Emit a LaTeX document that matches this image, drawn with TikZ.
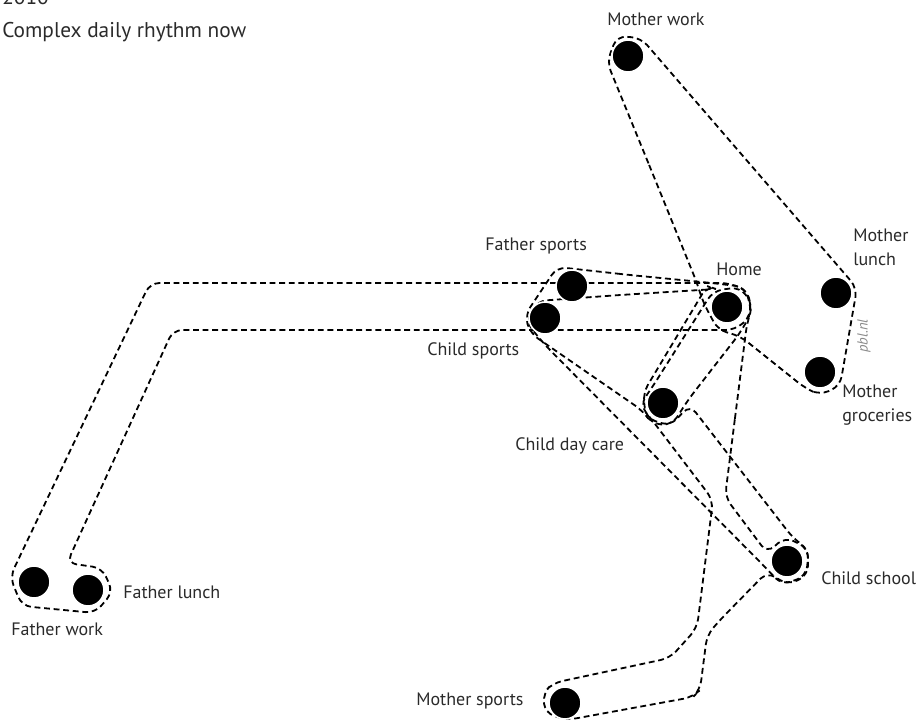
\documentclass[tikz,border=0pt]{standalone}
\usepackage{fontspec}
\setmainfont{PT Sans}
\usetikzlibrary{positioning}
\definecolor{inkgray}{HTML}{2A2A2A}

\begin{document}
\begin{tikzpicture}[x=0.75pt,y=-0.75pt,
  every node/.style={font=\fontsize{13.5}{17.3}\selectfont,text=inkgray},
  stop/.style={circle,fill=black,draw=white,line width=1.2pt,minimum size=24pt,inner sep=0pt},
  tour/.style={draw,line width=1.35pt,dash pattern=on 4.4pt off 2.8pt,rounded corners=7pt},
  lbl/.style={anchor=base west,inner sep=0pt,align=left},
  headline/.style={lbl,font=\fontsize{16}{19}\selectfont}]
\useasboundingbox (0,0) rectangle (916,722);

% titles
\node[headline] (year) at (2,4) {2010};
\node[headline] (title) at (2,37) {Complex daily rhythm now};

% trips
\draw[tour] (400,283) -- (150,283) -- (10,577) -- (22,606) -- (95,613) -- (113,592) -- (102,568) -- (67,563) -- (173,330) -- (735,330) -- (751,316) -- (749,292) -- (730,283) -- cycle;
\draw[tour] (652,172) -- (607,62) -- (617,36) -- (641,38) -- (857,288) -- (840,386) -- (820,395) -- (805,388) -- (740,336) -- (718,330) -- (703,302) -- (697,283) -- cycle;
\draw[tour] (630,275) -- (557,267) -- (525,315) -- (530,333) -- (643,411) -- (652,424) -- (672,425) -- (688,400) -- (740,333) -- (752,312) -- (745,287) -- (712,283) -- cycle;
\draw[tour] (620,295) -- (537,301) -- (526,322) -- (545,345) -- (765,567) -- (782,585) -- (806,576) -- (809,550) -- (793,538) -- (690,405) -- (670,426) -- (646,418) -- (643,393) -- (707,286) -- (716,289) -- cycle;
\draw[tour] (736,410) -- (725,497) -- (767,553) -- (785,537) -- (808,548) -- (808,575) -- (788,585) -- (767,572) -- (720,620) -- (707,635) -- (700,690) -- (693,697) -- (567,720) -- (545,713) -- (543,693) -- (553,683) -- (670,658) -- (697,628) -- (713,500) -- (652,420) -- (640,405) -- (653,386) -- (713,291) -- (740,287) -- (753,305) -- (747,323) -- cycle;

% places
\node[stop] (home) at (727,307) {};
\node[stop] (mwork) at (628,56) {};
\node[stop] (mlunch) at (836,293) {};
\node[stop] (mgroc) at (820,372) {};
\node[stop] (fsports) at (572,286) {};
\node[stop] (csports) at (545,318) {};
\node[stop] (daycare) at (663,403) {};
\node[stop] (school) at (787,561) {};
\node[stop] (fwork) at (34,582) {};
\node[stop] (flunch) at (88,590) {};
\node[stop] (msports) at (565,703) {};

% labels
\node[lbl] (homelbl) at (716,275) {Home};
\node[lbl] (mworklbl) at (607,25) {Mother work};
\node[lbl] (mlunchlbl) at (853,265) {Mother\\lunch};
\node[lbl] (mgroclbl) at (842,421) {Mother\\groceries};
\node[lbl] (fsportslbl) at (485,250) {Father sports};
\node[lbl] (csportslbl) at (427,355) {Child sports};
\node[lbl] (daycarelbl) at (515,450) {Child day care};
\node[lbl] (schoollbl) at (821,584) {Child school};
\node[lbl] (flunchlbl) at (123,598) {Father lunch};
\node[lbl] (fworklbl) at (11,635) {Father work};
\node[lbl] (msportslbl) at (416,705) {Mother sports};
\node[rotate=90,text=black!45,font=\fontsize{11}{13}\selectfont\itshape] (credit) at (864,336) {pbl.nl};
\end{tikzpicture}
\end{document}
